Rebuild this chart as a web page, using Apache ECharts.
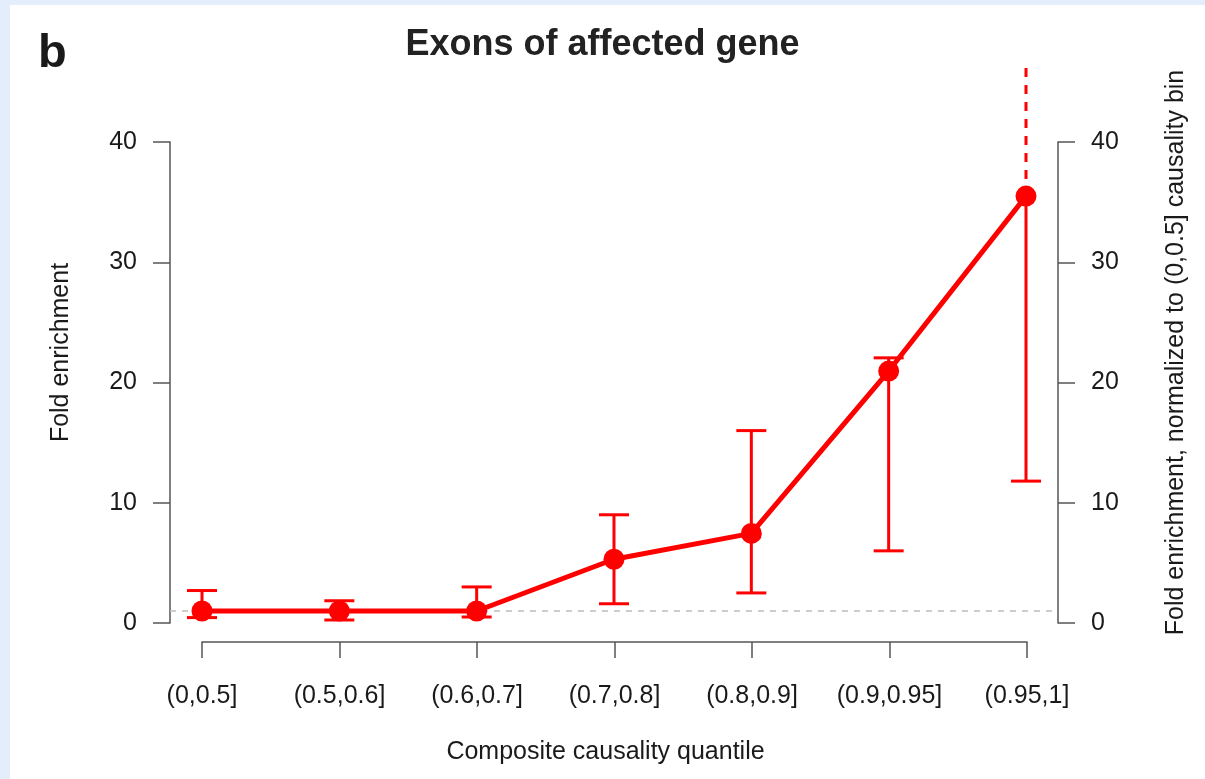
<!DOCTYPE html>
<html>
<head>
<meta charset="utf-8">
<title>Exons of affected gene</title>
<script src="https://cdn.jsdelivr.net/npm/echarts@6/dist/echarts.min.js"></script>
<style>
  html, body { margin: 0; padding: 0; width: 1205px; height: 779px; overflow: hidden; background: #e4edfb; }
  #panel { position: absolute; left: 10px; top: 5px; right: 0; bottom: 0; background: #ffffff; }
  #chart { position: absolute; left: 0; top: 0; width: 1205px; height: 779px; }
</style>
</head>
<body>
<div id="panel"></div>
<div id="chart"></div>
<script>
// Causality bins along the x axis
const categories = ['(0,0.5]', '(0.5,0.6]', '(0.6,0.7]', '(0.7,0.8]', '(0.8,0.9]', '(0.9,0.95]', '(0.95,1]'];
// Fold enrichment per bin (normalized to the first bin)
const foldEnrichment = [1.0, 1.0, 1.0, 5.3, 7.45, 20.95, 35.5];
// Confidence interval bounds
const ciLower = [0.45, 0.25, 0.5, 1.6, 2.5, 6.0, 11.8];
const ciUpper = [2.7, 1.85, 3.0, 9.0, 16.0, 22.05, 46.7];
// Reference level (no enrichment)
const baseline = 1;
// Y axis scale
const yMin = 0, yMax = 40, yStep = 10;

const RED = '#ff0000';
const AXIS = '#555555';
const TEXT = '#1a1a1a';
const FONT = '"Liberation Sans", Arial, Helvetica, sans-serif';

const pointData = foldEnrichment.map((v, i) => [i, v]);
const errData = foldEnrichment.map((v, i) => [i, ciLower[i], ciUpper[i], v]);

function renderErrorBar(params, api) {
  const x = api.value(0), lo = api.value(1), hi = api.value(2), mid = api.value(3);
  const open = hi > yMax; // interval runs past the top of the scale
  const pLo = api.coord([x, lo]);
  const pHi = api.coord([x, hi]);
  const pMid = api.coord([x, mid]);
  const cap = 15;
  const solid = { stroke: RED, lineWidth: 3 };
  const children = [
    { type: 'line', shape: { x1: pLo[0], y1: pLo[1], x2: pMid[0], y2: pMid[1] }, style: solid },
    { type: 'line', shape: { x1: pMid[0], y1: pMid[1], x2: pHi[0], y2: pHi[1] },
      style: open ? { stroke: RED, lineWidth: 3, lineDash: [9, 8] } : solid },
    { type: 'line', shape: { x1: pLo[0] - cap, y1: pLo[1], x2: pLo[0] + cap, y2: pLo[1] }, style: solid }
  ];
  if (!open) {
    children.push({ type: 'line', shape: { x1: pHi[0] - cap, y1: pHi[1], x2: pHi[0] + cap, y2: pHi[1] }, style: solid });
  }
  return { type: 'group', children: children };
}

const chart = echarts.init(document.getElementById('chart'), null, { renderer: 'canvas' });

const yAxisCommon = {
  type: 'value', gridIndex: 0, min: yMin, max: yMax, interval: yStep,
  splitLine: { show: false },
  axisLine: { show: true, onZero: false, lineStyle: { color: AXIS, width: 1.5 } },
  axisTick: { show: true, length: 17, lineStyle: { color: AXIS, width: 1.5 } },
  axisLabel: { color: TEXT, fontSize: 25, fontFamily: FONT, margin: 33 },
  nameLocation: 'middle', nameRotate: 90
};

chart.setOption({
  backgroundColor: 'transparent',
  animation: false,
  title: [
    { text: 'b', left: 33, top: 26, textStyle: { fontSize: 47, fontWeight: 'bold', color: TEXT, fontFamily: FONT } },
    { text: 'Exons of affected gene', left: 'center', top: 22,
      textStyle: { fontSize: 36, fontWeight: 'bold', color: '#222222', fontFamily: FONT } }
  ],
  grid: [
    // plotting region
    { left: 170, right: 147, top: 142, bottom: 156 },
    // detached category axis underneath
    { left: 202, right: 178, top: 600, bottom: 137 }
  ],
  xAxis: [
    { type: 'value', gridIndex: 0, min: -0.233, max: 6.233, show: false, axisLine: { onZero: false } },
    { type: 'category', gridIndex: 1, data: categories, boundaryGap: false,
      axisLine: { show: true, onZero: false, lineStyle: { color: AXIS, width: 1.5 } },
      axisTick: { show: true, length: 16, alignWithLabel: true, lineStyle: { color: AXIS, width: 1.5 } },
      axisLabel: { color: TEXT, fontSize: 25, fontFamily: FONT, margin: 42, interval: 0 },
      splitLine: { show: false },
      name: 'Composite causality quantile', nameLocation: 'middle', nameGap: 98,
      nameTextStyle: { color: TEXT, fontSize: 25, fontFamily: FONT, padding: [0, 18, 0, 0] } }
  ],
  yAxis: [
    Object.assign({}, yAxisCommon, {
      position: 'left', name: 'Fold enrichment', nameGap: 96,
      nameTextStyle: { color: TEXT, fontSize: 25, fontFamily: FONT, padding: [0, 0, 0, 60] }
    }),
    Object.assign({}, yAxisCommon, {
      position: 'right', name: 'Fold enrichment, normalized to (0,0.5] causality bin', nameGap: 106,
      nameTextStyle: { color: TEXT, fontSize: 25, fontFamily: FONT, padding: [0, 0, 0, 60] }
    }),
    { type: 'value', gridIndex: 1, show: false }
  ],
  series: [
    {
      type: 'custom', name: 'ci', xAxisIndex: 0, yAxisIndex: 0,
      data: errData, renderItem: renderErrorBar, clip: false, z: 3,
      encode: { x: 0, y: [1, 2] }, silent: true
    },
    {
      type: 'line', name: 'enrichment', xAxisIndex: 0, yAxisIndex: 0,
      data: pointData, symbol: 'circle', symbolSize: 21, showAllSymbol: true,
      lineStyle: { color: RED, width: 5 }, itemStyle: { color: RED }, z: 4,
      markLine: {
        silent: true, symbol: 'none', z: 2,
        label: { show: false },
        lineStyle: { color: '#bdbdbd', width: 1.5, type: [6, 6] },
        data: [{ yAxis: baseline }]
      }
    }
  ]
});
</script>
</body>
</html>
